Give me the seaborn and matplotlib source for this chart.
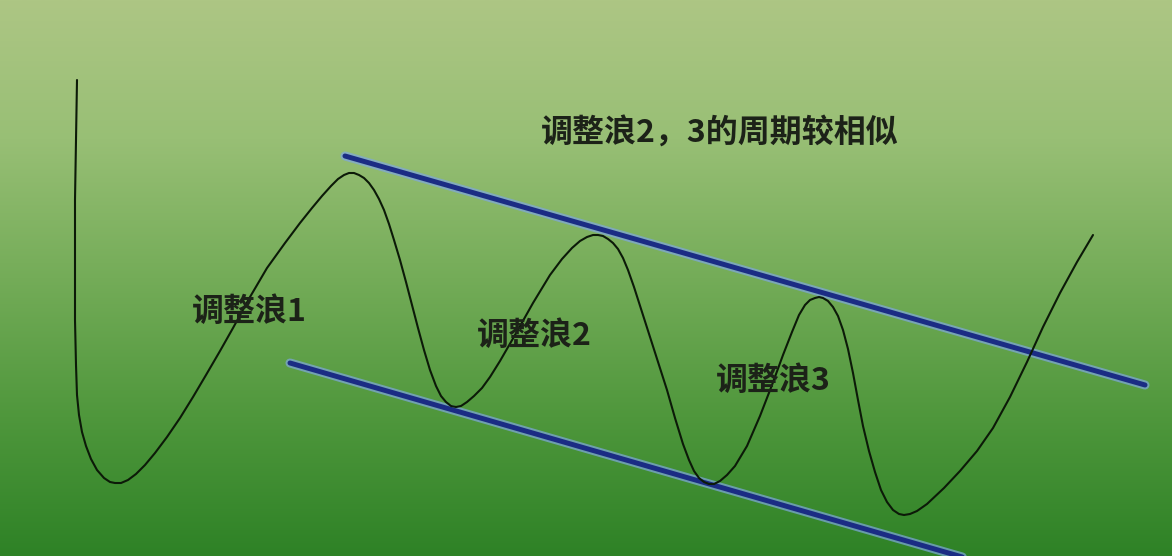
#!/usr/bin/env python3
import numpy as np
import pandas as pd
import matplotlib.pyplot as plt
import matplotlib as mpl
import seaborn as sns

# ------------------------------------------------------------------
# Data (pixel coordinates)
# ------------------------------------------------------------------
wave_x = [77, 76, 75, 75, 75, 76, 77, 79, 82, 86, 91, 97, 104, 110, 115, 121,
          128, 136, 145, 155, 167, 180, 193, 206, 220, 233, 250, 267, 285, 300, 312, 322,
          331, 338, 344, 349, 354, 359, 364, 369, 374, 379, 384, 389, 394, 400,
          406, 412, 418, 424, 430, 436, 441, 446, 451, 456, 461, 467, 474, 482,
          490, 500, 515, 533, 550, 562, 572, 580, 587, 593, 598, 603, 608, 613,
          618, 623, 628, 634, 642, 650, 658, 667, 675, 683, 689, 694, 699, 704,
          709, 714, 720, 727, 735, 747, 760, 772, 783, 792, 799, 805, 810, 815,
          819, 823, 828, 833, 838, 843, 848, 853, 858, 863, 869, 875, 881, 887,
          893, 899, 904, 910, 917, 927, 944, 960, 977, 993, 1010, 1027, 1043,
          1060, 1077, 1093]
wave_y = [80, 140, 200, 260, 320, 365, 395, 415, 432, 446, 459, 470, 478, 482, 483, 483,
          480, 474, 465, 453, 437, 418, 397, 375, 351, 328, 297, 268, 243, 223, 208, 196,
          186, 179, 175, 173, 173, 175, 178, 183, 190, 199, 210, 224, 240, 260,
          282, 305, 328, 350, 370, 386, 396, 402, 406, 407, 406, 402, 396, 388,
          377, 361, 335, 303, 275, 259, 248, 241, 237, 235, 235, 236, 239, 243,
          249, 258, 270, 287, 312, 337, 362, 390, 418, 444, 460, 471, 478, 482,
          484, 484, 481, 475, 466, 446, 416, 385, 355, 332, 315, 305, 300, 298,
          297, 298, 301, 307, 316, 330, 349, 373, 400, 426, 451, 472, 490, 502,
          510, 514, 515, 514, 511, 504, 488, 471, 451, 428, 397, 362, 327,
          293, 262, 235]

upper_x = [345, 1145]
upper_y = [156, 385]
lower_x = [290, 990]
lower_y = [363, 565]

labels = ["调整浪1", "调整浪2", "调整浪3", "调整浪2，3的周期较相似"]
label_x = [192, 477, 716, 541]
label_y = [312, 336, 381, 134]

# ------------------------------------------------------------------
# Style
# ------------------------------------------------------------------
sns.set_style("white")
plt.rcParams["font.family"] = ["Noto Sans CJK SC", "DejaVu Sans"]

W, H = 1172, 556
fig = plt.figure(figsize=(W / 100, H / 100), dpi=100)
ax = fig.add_axes([0, 0, 1, 1])

# background gradient, light green top -> dark green bottom
bg_cmap = mpl.colors.LinearSegmentedColormap.from_list(
    "bg", ["#adc684", "#98bf75", "#74ac58", "#4f973c", "#2e8226"])
grad = np.linspace(0, 1, 256).reshape(-1, 1)
ax.imshow(grad, cmap=bg_cmap, aspect="auto", extent=[0, W, H, 0], zorder=0)

wave = pd.DataFrame({"x": wave_x, "y": wave_y})
upper = pd.DataFrame({"x": upper_x, "y": upper_y})
lower = pd.DataFrame({"x": lower_x, "y": lower_y})

# channel lines: light halo + dark blue core
for df in (upper, lower):
    sns.lineplot(data=df, x="x", y="y", ax=ax, color="#7fa6e0", linewidth=6.5,
                 alpha=0.7, solid_capstyle="round", zorder=2)
    sns.lineplot(data=df, x="x", y="y", ax=ax, color="#1b2c84", linewidth=3.6,
                 solid_capstyle="round", zorder=3)

sns.lineplot(data=wave, x="x", y="y", ax=ax, sort=False, estimator=None,
             color="#0c1a08", linewidth=1.5, zorder=4)

for txt, tx, ty in zip(labels, label_x, label_y):
    ax.text(tx, ty, txt, fontsize=23, fontweight="bold", color="#1c2218",
            ha="left", va="center", zorder=5)

ax.set_xlim(0, W)
ax.set_ylim(H, 0)
ax.set_axis_off()

fig.savefig("out.png", dpi=100)
